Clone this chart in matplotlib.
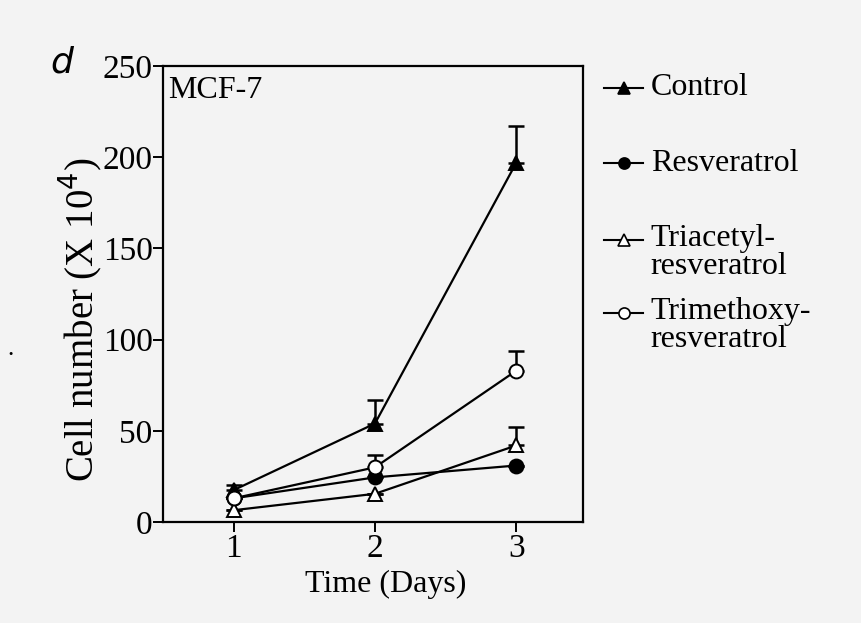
import numpy as np
import matplotlib.pyplot as plt
from matplotlib.lines import Line2D

plt.rcParams['font.family'] = ['Liberation Serif', 'DejaVu Serif']

days = [1, 2, 3]
labels = ['Control', 'Resveratrol', 'Triacetyl-\nresveratrol', 'Trimethoxy-\nresveratrol']
control = [17.5, 54, 197]
control_err = [3, 13, 20]
resveratrol = [13, 24.5, 31]
resveratrol_err = [0, 0, 0]
triacetyl = [6.5, 15.5, 42]
triacetyl_err = [0, 0, 10]
trimethoxy = [13, 30, 83]
trimethoxy_err = [0, 7, 11]

series = [control, resveratrol, triacetyl, trimethoxy]
errors = [control_err, resveratrol_err, triacetyl_err, trimethoxy_err]
markers = ['^', 'o', '^', 'o']
faces = ['black', 'black', 'white', 'white']

bg = '#f3f3f3'
fig = plt.figure(figsize=(8.62, 6.23), dpi=100, facecolor=bg)
ax = fig.add_axes([0.189, 0.162, 0.487, 0.732], facecolor=bg)

for vals, err, m, fc in zip(series, errors, markers, faces):
    # one-sided error bars (upper only)
    ax.errorbar(days, vals, yerr=[np.zeros(len(err)), err], fmt='none',
                ecolor='black', elinewidth=1.8, capsize=6, capthick=1.8, zorder=2)
    ax.plot(days, vals, color='black', lw=1.6, marker=m, markersize=10,
            markerfacecolor=fc, markeredgecolor='black', markeredgewidth=1.4, zorder=3)

ax.set_xlim(0.5, 3.47)
ax.set_ylim(0, 250)
ax.set_xticks(days)
ax.set_yticks(np.arange(0, 251, 50))
ax.tick_params(direction='out', length=7, width=1.4, labelsize=24)
ax.tick_params(axis='y', pad=0.5)
ax.tick_params(axis='x', pad=1)
for s in ax.spines.values():
    s.set_linewidth(1.6)

ax.set_xlabel('Time (Days)', fontsize=23)
ax.xaxis.set_label_coords(0.531, -0.105)
ax.set_ylabel('Cell number (X 10$^4$)', fontsize=28)
ax.yaxis.set_label_coords(-0.14, 0.443)
ax.text(0.012, 0.947, 'MCF-7', transform=ax.transAxes, ha='left', va='center', fontsize=23)

# legend drawn by hand to keep the uneven spacing of the original
leg_y = [0.859, 0.738, 0.615, 0.498]
text_y = [0.859, 0.738, 0.594, 0.4775]
for m, fc, lab, hy, ty in zip(markers, faces, labels, leg_y, text_y):
    fig.add_artist(Line2D([0.701, 0.746], [hy, hy], transform=fig.transFigure,
                          color='black', lw=1.5))
    fig.add_artist(Line2D([0.7235], [hy], transform=fig.transFigure, marker=m,
                          markersize=8, markerfacecolor=fc, markeredgecolor='black',
                          markeredgewidth=1.2, linestyle='none'))
    fig.text(0.755, ty, lab, fontsize=23, ha='left', va='center', linespacing=0.95)

fig.text(0.058, 0.90, 'd', fontsize=26, style='italic', family='DejaVu Sans',
         ha='left', va='center')
fig.text(0.009, 0.44, '.', fontsize=18, ha='left', va='center')

fig.savefig('out.png', dpi=100, facecolor=bg)
